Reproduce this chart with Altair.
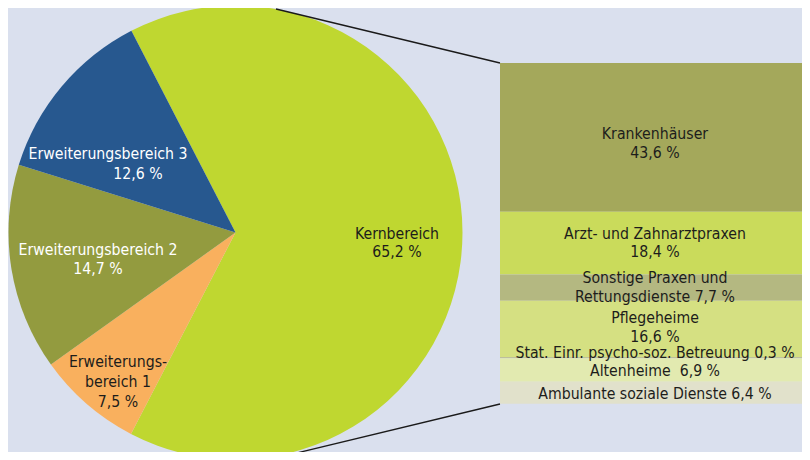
import math
import altair as alt
import pandas as pd

# ---------------- data ----------------
pie_names = ["Kernbereich", "Erweiterungsbereich 1", "Erweiterungsbereich 2", "Erweiterungsbereich 3"]
pie_values = [65.2, 7.5, 14.7, 12.6]
pie_labels = ["Kernbereich\n65,2 %", "Erweiterungs-\nbereich 1\n7,5 %",
              "Erweiterungsbereich 2\n14,7 %", "Erweiterungsbereich 3\n12,6 %"]

bar_names = ["Krankenhäuser", "Arzt- und Zahnarztpraxen", "Sonstige Praxen und Rettungsdienste",
             "Pflegeheime", "Stat. Einr. psycho-soz. Betreuung", "Altenheime", "Ambulante soziale Dienste"]
bar_values = [43.6, 18.4, 7.7, 16.6, 0.3, 6.9, 6.4]
bar_labels = ["Krankenhäuser\n43,6 %", "Arzt- und Zahnarztpraxen\n18,4 %",
              "Sonstige Praxen und\nRettungsdienste 7,7 %", "Pflegeheime\n16,6 %",
              "Stat. Einr. psycho-soz. Betreuung 0,3 %", "Altenheime\u00a0 6,9 %",
              "Ambulante soziale Dienste 6,4 %"]

# ---------------- styles ----------------
pie_colors = ["#bfd730", "#f9b05e", "#939b3f", "#27588f"]
bar_colors = ["#a4a85b", "#cadb5b", "#b4b881", "#d5e082", "#b3b58a", "#e2eab0", "#e1e1cb"]
BG = "#dae0ee"
FONT = "DejaVu Sans Condensed, DejaVu Sans, sans-serif"
FS = 15.7
DARK = "#1d1d1b"

W, H = 794, 444
CX, CY, R = 227.5, 224.5, 227
START = -0.4765
TAU = 2 * math.pi

pie_df = pd.DataFrame({"name": pie_names, "pct": pie_values, "label": pie_labels,
                       "idx": list(range(len(pie_names)))})
bar_df = pd.DataFrame({"name": bar_names, "pct": bar_values, "label": bar_labels,
                       "idx": list(range(len(bar_names)))})

pie = alt.Chart(pie_df).mark_arc(outerRadius=R).encode(
    theta=alt.Theta("pct:Q", stack=True,
                    scale=alt.Scale(domain=[0, 100], range=[TAU + START, 2 * TAU + START])),
    order=alt.Order("idx:Q"),
    color=alt.Color("name:N", scale=alt.Scale(domain=pie_names, range=pie_colors), legend=None),
    x=alt.value(CX), y=alt.value(CY),
)

yscale = alt.Scale(domain=[0, 100], range=[55, 396], nice=False, zero=False)


def stacked(base):
    return base.transform_window(
        cum="sum(pct)", sort=[alt.SortField("idx")], frame=[None, 0]
    ).transform_calculate(y0="datum.cum - datum.pct", mid="datum.cum - datum.pct / 2")


bar = stacked(alt.Chart(bar_df)).mark_rect().encode(
    y=alt.Y("y0:Q", scale=yscale, axis=None),
    y2="cum:Q",
    x=alt.value(492), x2=alt.value(802),
    color=alt.Color("name:N", scale=alt.Scale(domain=bar_names, range=bar_colors), legend=None),
)


def bar_text(names, dy):
    flt = " || ".join([f"datum.name === '{n}'" for n in names])
    return stacked(alt.Chart(bar_df)).transform_filter(flt).mark_text(
        font=FONT, fontSize=FS, lineBreak="\n", lineHeight=18.5, color=DARK,
        align="center", baseline="middle", dy=dy,
    ).encode(y=alt.Y("mid:Q", scale=yscale, axis=None), x=alt.value(647), text="label:N")


bar_texts = [
    bar_text(["Krankenhäuser"], -3),
    bar_text(["Arzt- und Zahnarztpraxen", "Sonstige Praxen und Rettungsdienste"], -9.5),
    bar_text(["Pflegeheime"], -10.5),
    bar_text(["Altenheime", "Ambulante soziale Dienste"], 1),
    bar_text(["Stat. Einr. psycho-soz. Betreuung"], -5),
]


def pie_text(name, x, y, color, lh, line=None):
    c = alt.Chart(pie_df).transform_filter(f"datum.name === '{name}'")
    field = "label"
    if line is not None:
        c = c.transform_calculate(part=f"split(datum.label, '\\n')[{line}]")
        field = "part"
    return c.mark_text(font=FONT, fontSize=FS, lineBreak="\n", lineHeight=lh, color=color,
                       align="center", baseline="middle").encode(
        x=alt.value(x), y=alt.value(y), text=f"{field}:N")


pie_texts = [
    pie_text("Kernbereich", 389, 226, DARK, 18),
    pie_text("Erweiterungsbereich 1", 110, 354, DARK, 20),
    pie_text("Erweiterungsbereich 2", 90, 242, "#ffffff", 18.5),
    pie_text("Erweiterungsbereich 3", 100, 146, "#ffffff", 19, line=0),
    pie_text("Erweiterungsbereich 3", 130, 165.5, "#ffffff", 19, line=1),
]

conn = alt.Chart(pd.DataFrame({"k": [0, 1]}))
line_top = conn.transform_filter("datum.k === 0").mark_rule(color="#1a1a1a", strokeWidth=1.3).encode(
    x=alt.value(268), y=alt.value(1), x2=alt.value(492), y2=alt.value(55))
line_bot = conn.transform_filter("datum.k === 1").mark_rule(color="#1a1a1a", strokeWidth=1.3).encode(
    x=alt.value(268), y=alt.value(450), x2=alt.value(492), y2=alt.value(396))

chart = alt.layer(pie, bar, line_top, line_bot, *bar_texts, *pie_texts).resolve_scale(
    color="independent"
).properties(
    width=W, height=H, autosize=alt.AutoSizeParams(type="none"), padding=0, background=BG
).configure_view(stroke=None)

chart.save("out.html", embed_options={"renderer": "svg", "actions": False})
